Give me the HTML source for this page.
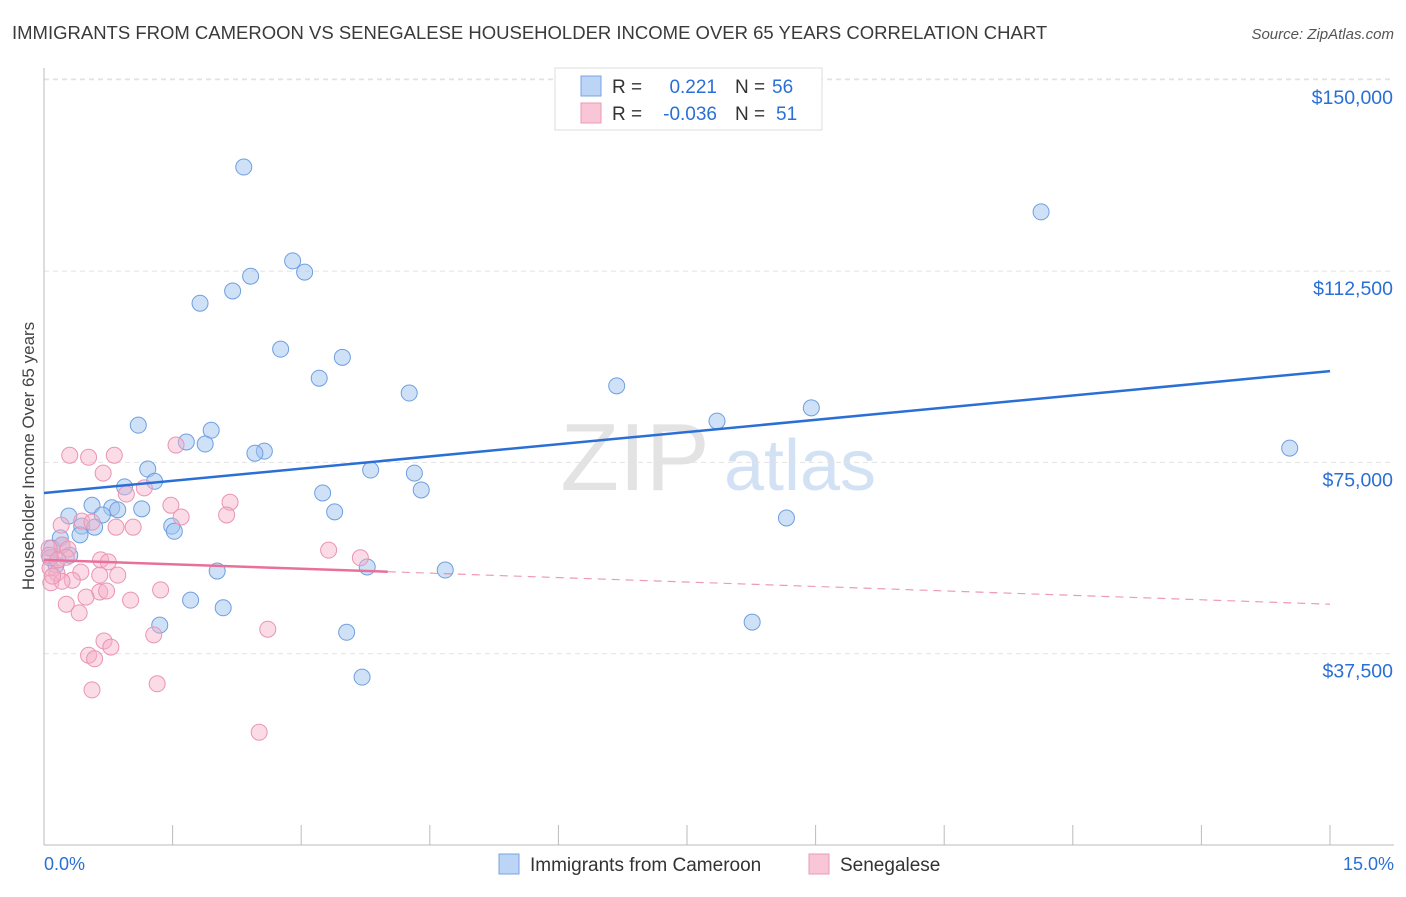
<!DOCTYPE html>
<html><head><meta charset="utf-8"><style>
body{margin:0;background:#fff;font-family:"Liberation Sans",sans-serif;}
svg text{font-family:"Liberation Sans",sans-serif;}
</style></head><body>
<svg id="chart" width="1406" height="892" xmlns="http://www.w3.org/2000/svg">
<text x="12" y="39" font-size="18.5" fill="#3a3a3a">IMMIGRANTS FROM CAMEROON VS SENEGALESE HOUSEHOLDER INCOME OVER 65 YEARS CORRELATION CHART</text>
<text x="1394" y="39" font-size="15" fill="#555" text-anchor="end" font-style="italic">Source: ZipAtlas.com</text>
<text transform="translate(34,456) rotate(-90)" font-size="17" fill="#444" text-anchor="middle">Householder Income Over 65 years</text>
<g>
<text x="635" y="490" font-size="96" fill="#ddd" font-family="Liberation Serif" text-anchor="middle" opacity="0.8">ZIP</text>
<text x="800" y="490" font-size="72" fill="#c9daf2" text-anchor="middle" opacity="0.8">atlas</text>
</g>
<g id="grid"></g><g id="axes"></g><g id="pts"></g><g id="lines"></g>
<g>
<rect x="555" y="68" width="267" height="62" fill="#fff" stroke="#ddd"/>
<rect x="581" y="76" width="20" height="20" fill="#bcd4f5" stroke="#7aa5e0"/>
<rect x="581" y="103" width="20" height="20" fill="#f8c6d6" stroke="#e89ab4"/>
<text x="612" y="93" font-size="19" fill="#333">R = </text><text x="717" y="93" font-size="19" fill="#2a6fd6" text-anchor="end">0.221</text>
<text x="735" y="93" font-size="19" fill="#333">N = </text><text x="772" y="93" font-size="19" fill="#2a6fd6">56</text>
<text x="612" y="120" font-size="19" fill="#333">R = </text><text x="717" y="120" font-size="19" fill="#2a6fd6" text-anchor="end">-0.036</text>
<text x="735" y="120" font-size="19" fill="#333">N = </text><text x="776" y="120" font-size="19" fill="#2a6fd6">51</text>
</g>
<g>
<rect x="499" y="854" width="20" height="20" fill="#bcd4f5" stroke="#7aa5e0"/>
<text x="530" y="871" font-size="19" fill="#333">Immigrants from Cameroon</text>
<rect x="809" y="854" width="20" height="20" fill="#f8c6d6" stroke="#e89ab4"/>
<text x="840" y="871" font-size="19" fill="#333">Senegalese</text>
</g>
<text x="44" y="870" font-size="18" fill="#2a6fd6">0.0%</text>
<text x="1394" y="870" font-size="18" fill="#2a6fd6" text-anchor="end">15.0%</text>
</svg>
<script>
const yTicks=[37500,75000,112500,150000];
const yTickLabels=["$37,500","$75,000","$112,500","$150,000"];
const xTicks=[0,1.5,3,4.5,6,7.5,9,10.5,12,13.5,15];
const blueX=[2.33,11.63,2.90,3.04,2.41,2.20,1.82,2.76,3.48,3.21,4.26,6.68,8.95,7.85,1.10,1.95,1.66,1.88,2.57,2.46,1.21,3.81,4.32,1.29,0.94,3.25,4.40,0.56,0.79,0.86,1.14,3.39,0.68,0.29,0.44,1.49,1.52,0.59,8.66,0.42,0.19,0.09,0.30,0.14,3.77,4.68,2.02,1.71,2.09,1.35,8.26,3.53,3.71,14.53,0.21,0.07];
const blueY=[132900,124100,114500,112300,111500,108600,106200,97200,95600,91500,88600,90000,85700,83100,82300,81300,79000,78600,77200,76800,73700,73500,72900,71300,70200,69000,69600,66600,66100,65700,65900,65300,64700,64500,62500,62500,61500,62300,64100,60800,60200,58200,56800,54900,54500,53900,53700,48000,46500,43100,43700,41700,32900,77800,58800,56300];
const pinkX=[0.30,0.52,0.82,1.54,0.69,0.96,1.17,2.17,1.48,1.60,2.13,0.44,0.20,0.21,0.84,1.04,0.56,0.06,0.28,0.66,0.75,3.32,3.69,0.26,0.43,0.07,0.15,0.86,1.36,0.33,0.08,0.21,0.65,0.73,1.01,0.26,0.41,0.70,0.78,1.28,2.61,0.52,0.59,1.32,0.56,2.51,0.10,0.06,0.16,0.49,0.65];
const pinkY=[76400,76000,76400,78400,72900,68800,70000,67200,66600,64300,64700,63500,62700,58800,62300,62300,63300,58200,58000,55900,55500,57800,56300,56400,53500,54300,53300,52900,50000,51900,51400,51700,49600,49800,48000,47200,45500,40000,38800,41200,42300,37200,36500,31600,30400,22100,52700,56800,55900,48600,52900];
const blueTrend=[69000,92900];
const pinkTrend=[55900,47200];
const pinkSolidEnd=4.01;
const X0=44,X1=1330,Y0=845,YPX=191.3/37500;
const sx=v=>X0+(X1-X0)*v/15, sy=v=>Y0-v*YPX;
const NS="http://www.w3.org/2000/svg";
function mk(parent,tag,attrs){const e=document.createElementNS(NS,tag);for(const k in attrs)e.setAttribute(k,attrs[k]);document.getElementById(parent).appendChild(e);return e;}
yTicks.forEach((t,i)=>{
 const l=mk('grid','line',{x1:X0,x2:1394,y1:sy(t),y2:sy(t),stroke:'#e2e2e2','stroke-dasharray':'5,4'});
 
 
 const tx=mk('grid','text',{x:1393,y:sy(t)+24,'font-size':19.5,fill:'#2a6fd6','text-anchor':'end'});
 tx.textContent=yTickLabels[i];
 
 
});
const tg=mk('grid','line',{x1:X0,x2:1394,y1:79,y2:79,stroke:'#e2e2e2','stroke-dasharray':'5,4'});


const ya=mk('axes','line',{x1:X0,x2:X0,y1:68,y2:Y0,stroke:'#bbb'});


const xa=mk('axes','line',{x1:X0,x2:1394,y1:Y0,y2:Y0,stroke:'#bbb'});


xTicks.forEach(t=>{
 const l=mk('axes','line',{x1:sx(t),x2:sx(t),y1:Y0,y2:Y0-20,stroke:'#bbb'});
 
 
});
blueX.forEach((x,i)=>{
 const c=mk('pts','circle',{cx:sx(x),cy:sy(blueY[i]),r:8,fill:'rgba(160,195,240,0.5)',stroke:'#6f9fe0','stroke-width':1});
 
 
});
pinkX.forEach((x,i)=>{
 const c=mk('pts','circle',{cx:sx(x),cy:sy(pinkY[i]),r:8,fill:'rgba(245,175,200,0.45)',stroke:'#ea94b4','stroke-width':1});
 
 
});
const bl=mk('lines','line',{x1:sx(0),y1:sy(blueTrend[0]),x2:sx(15),y2:sy(blueTrend[1]),stroke:'#2a6fd6','stroke-width':2.5});


const pe=pinkTrend[0]+(pinkTrend[1]-pinkTrend[0])*pinkSolidEnd/15;
const pl=mk('lines','line',{x1:sx(0),y1:sy(pinkTrend[0]),x2:sx(pinkSolidEnd),y2:sy(pe),stroke:'#e8709a','stroke-width':2.5});


const pd=mk('lines','line',{x1:sx(pinkSolidEnd),y1:sy(pe),x2:sx(15),y2:sy(pinkTrend[1]),stroke:'#e8709a','stroke-width':1.2,'stroke-dasharray':'8,6',opacity:0.7});


</script>
</body></html>
